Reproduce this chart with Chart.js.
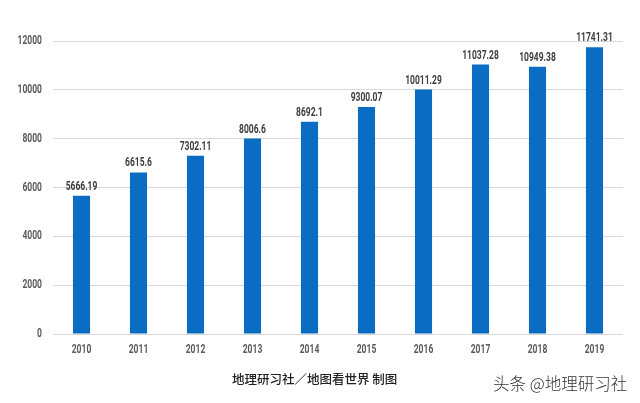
<!DOCTYPE html>
<html>
<head>
<meta charset="utf-8">
<script src="https://cdn.jsdelivr.net/npm/chart.js@4/dist/chart.umd.min.js"></script>
<style>
  html, body { margin: 0; padding: 0; background: #fff; }
  .wrap { position: relative; width: 640px; height: 403px; overflow: hidden; }
  .caption {
    position: absolute; left: 232px; top: 369px;
    font-family: "Noto Sans CJK SC", serif; font-size: 12.5px; font-weight: 500; color: #222;
  }
  .mark {
    position: absolute; left: 493px; top: 371px;
    font-family: "Noto Sans CJK SC", sans-serif; font-size: 16.5px; font-weight: 300; color: #333;
  }
</style>
</head>
<body>
<div class="wrap">
  <canvas id="chart" width="640" height="403"></canvas>
  <div class="caption">地理研习社／地图看世界 制图</div>
  <div class="mark">头条 @地理研习社</div>
</div>
<script>
const years = ["2010", "2011", "2012", "2013", "2014", "2015", "2016", "2017", "2018", "2019"];
const values = [5666.19, 6615.6, 7302.11, 8006.6, 8692.1, 9300.07, 10011.29, 11037.28, 10949.38, 11741.31];
const valueLabels = ["5666.19", "6615.6", "7302.11", "8006.6", "8692.1", "9300.07", "10011.29", "11037.28", "10949.38", "11741.31"];

const barColor = "#0A6CC2";
const textFont = "bold 12.5px Roboto, sans-serif";
const squeeze = 0.68;

// the reference uses a condensed face, so text is squeezed sideways
function drawNarrow(ctx, text, x, y, align) {
  ctx.save();
  ctx.translate(x, y);
  ctx.scale(squeeze, 1);
  ctx.textAlign = align;
  ctx.fillText(text, 0, 0);
  ctx.restore();
}

// axis labels and the numbers above each bar
const narrowText = {
  id: "narrowText",
  afterDraw(chart) {
    const ctx = chart.ctx;
    const xs = chart.scales.x;
    const ys = chart.scales.y;
    ctx.save();
    ctx.font = textFont;
    ctx.textBaseline = "middle";

    ctx.fillStyle = "#5a5a5a";
    ys.ticks.forEach(function(t) {
      drawNarrow(ctx, String(t.value), 42, ys.getPixelForValue(t.value), "right");
    });
    years.forEach(function(y, i) {
      drawNarrow(ctx, y, xs.getPixelForTick(i), 350, "center");
    });

    ctx.fillStyle = "#3d3d3d";
    ctx.textBaseline = "alphabetic";
    chart.getDatasetMeta(0).data.forEach(function(bar, i) {
      drawNarrow(ctx, valueLabels[i], bar.x, bar.y - 6, "center");
    });
    ctx.restore();
  }
};

new Chart(document.getElementById("chart"), {
  type: "bar",
  data: {
    labels: years,
    datasets: [{
      data: values,
      backgroundColor: barColor,
      barPercentage: 0.6,
      categoryPercentage: 0.5
    }]
  },
  options: {
    responsive: false,
    animation: false,
    layout: { padding: { top: 41, right: 17, left: 0, bottom: 0 } },
    plugins: { legend: { display: false }, tooltip: { enabled: false } },
    scales: {
      x: {
        grid: { display: false, drawTicks: false },
        border: { display: false },
        ticks: { display: false },
        afterFit(scale) { scale.height = 69; }
      },
      y: {
        min: 0,
        max: 12000,
        ticks: { stepSize: 2000, display: false },
        grid: { color: "#d9d9d9", drawTicks: false },
        border: { display: false },
        afterFit(scale) { scale.width = 53; }
      }
    }
  },
  plugins: [narrowText]
});
</script>
</body>
</html>
